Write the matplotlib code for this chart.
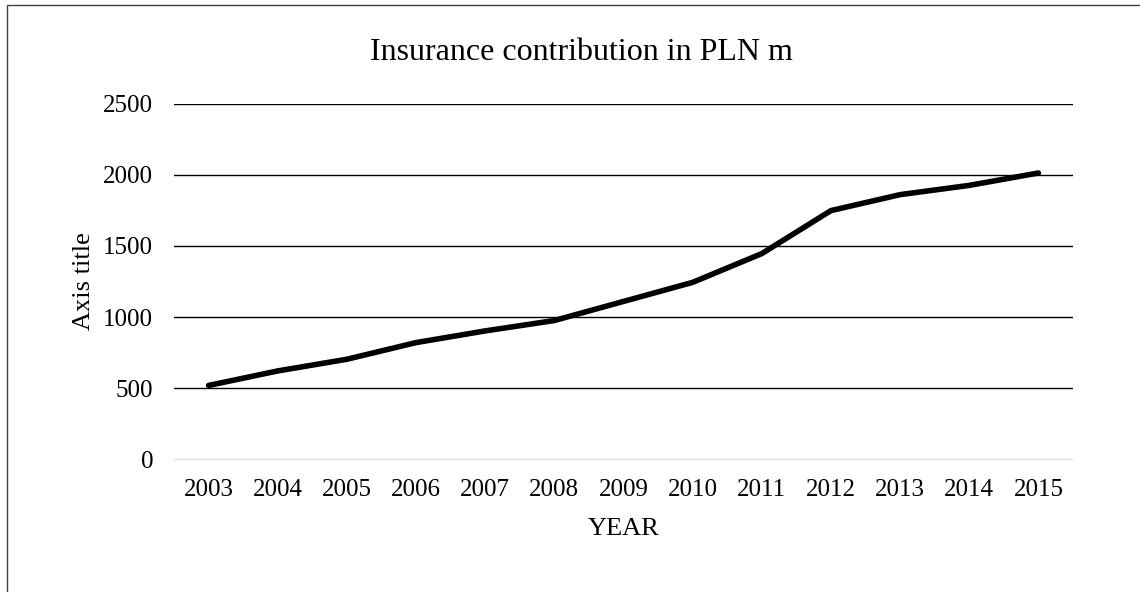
import matplotlib
matplotlib.use("Agg")
import matplotlib.pyplot as plt
from matplotlib.patches import Rectangle

years = ["2003", "2004", "2005", "2006", "2007", "2008", "2009",
         "2010", "2011", "2012", "2013", "2014", "2015"]
contribution = [520, 622, 704, 821, 903, 976, 1110,
                1244, 1446, 1748, 1860, 1925, 2012]
y_ticks = [0, 500, 1000, 1500, 2000, 2500]

plt.rcParams["font.family"] = ["Liberation Serif", "DejaVu Serif"]

W, H = 1140, 592
fig = plt.figure(figsize=(W/100, H/100), dpi=100)
ax = fig.add_axes([174/W, 1 - 459.5/H, (1073 - 174)/W, (459.5 - 103.5)/H])

x = list(range(len(years)))
ax.plot(x, contribution, color="black", lw=4, solid_capstyle="round",
        solid_joinstyle="round", zorder=3)

ax.set_xlim(-0.5, len(years) - 0.5)
ax.set_ylim(0, 2500)
ax.set_yticks(y_ticks)
ax.set_xticks(x)
ax.set_xticklabels(years)
for v in y_ticks[1:]:
    ax.axhline(v, color="black", lw=1.0, zorder=1)
ax.axhline(0, color="#d9d9d9", lw=1.3, zorder=1)

for s in ax.spines.values():
    s.set_visible(False)
ax.tick_params(length=0, labelsize=18, colors="#000000")
ax.tick_params(axis="y", pad=15)
ax.tick_params(axis="x", pad=14)

ax.set_xlabel("YEAR", fontsize=19, labelpad=12)
ax.set_ylabel("Axis title", fontsize=19, labelpad=6)

fig.text(581/W, 1 - 52/H, "Insurance contribution in PLN m", fontsize=23,
         ha="center", va="center")

# chart area border (cropped on the right and bottom)
fig.patches.append(Rectangle((7/W, -0.1), 1.2, 1 - 5/H + 0.1,
                             transform=fig.transFigure, fill=False,
                             edgecolor="#404040", lw=1.0))

fig.savefig("out.png", dpi=100)
